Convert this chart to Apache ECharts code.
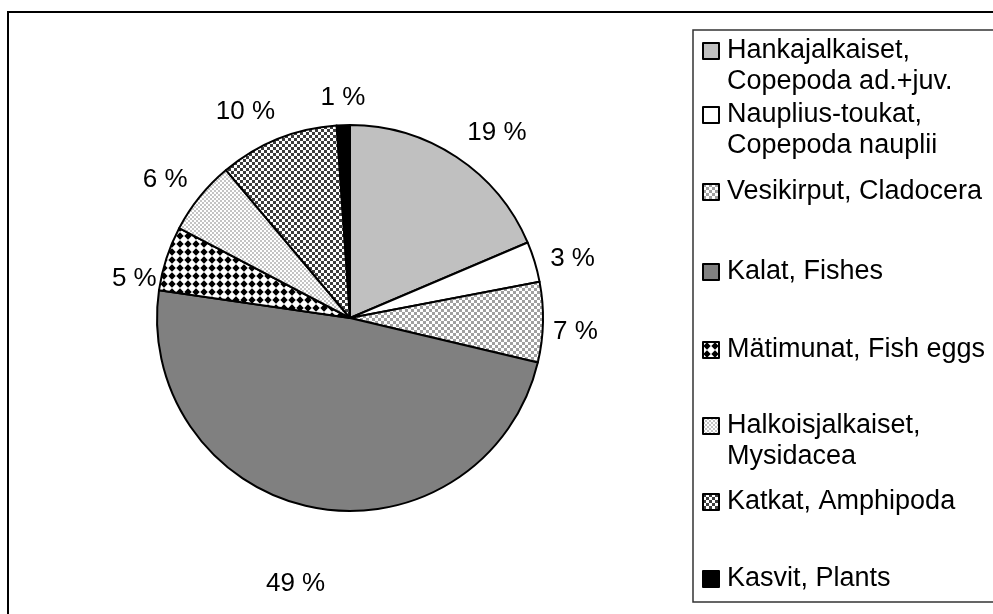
<!DOCTYPE html>
<html>
<head>
<meta charset="utf-8">
<script src="https://cdn.jsdelivr.net/npm/echarts@6/dist/echarts.min.js"></script>
<style>
  html, body { margin: 0; padding: 0; background: #fff; }
  #main { width: 993px; height: 614px; }
</style>
</head>
<body>
<div id="main"></div>
<script>
// ravinnon osuudet (%)
const names = [
  'Hankajalkaiset, Copepoda ad.+juv.',
  'Nauplius-toukat, Copepoda nauplii',
  'Vesikirput, Cladocera',
  'Kalat, Fishes',
  'Mätimunat, Fish eggs',
  'Halkoisjalkaiset, Mysidacea',
  'Katkat, Amphipoda',
  'Kasvit, Plants'
]
const legendLines = [
  ['Hankajalkaiset,', 'Copepoda ad.+juv.'],
  ['Nauplius-toukat,', 'Copepoda nauplii'],
  ['Vesikirput, Cladocera'],
  ['Kalat, Fishes'],
  ['Mätimunat, Fish eggs'],
  ['Halkoisjalkaiset,', 'Mysidacea'],
  ['Katkat, Amphipoda'],
  ['Kasvit, Plants']
]
const values = [18.6, 3.4, 6.7, 48.6, 5.4, 6.2, 10.0, 1.1]

// kuviot
function pattern(size, draw) {
  const c = document.createElement('canvas')
  c.width = size
  c.height = size
  const ctx = c.getContext('2d')
  draw(ctx)
  return { image: c, repeat: 'repeat' }
}
function checker(cell, dark, light) {
  return pattern(cell * 2, ctx => {
    ctx.fillStyle = light
    ctx.fillRect(0, 0, cell * 2, cell * 2)
    ctx.fillStyle = dark
    ctx.fillRect(0, 0, cell, cell)
    ctx.fillRect(cell, cell, cell, cell)
  })
}
const diamonds = pattern(8, ctx => {
  ctx.fillStyle = '#fff'
  ctx.fillRect(0, 0, 8, 8)
  ctx.fillStyle = '#000'
  ctx.beginPath()
  ctx.moveTo(4, 0.3)
  ctx.lineTo(7.7, 4)
  ctx.lineTo(4, 7.7)
  ctx.lineTo(0.3, 4)
  ctx.closePath()
  ctx.fill()
})
const fills = [
  '#c0c0c0',
  '#ffffff',
  checker(3, '#a0a0a0', '#ffffff'),
  '#808080',
  diamonds,
  checker(2, '#c4c4c4', '#ffffff'),
  checker(3, '#3c3c3c', '#ffffff'),
  '#000000'
]

// label placement (excel-like)
const labelLen = [25, 11, 5, 78, 5, 17, 26, 27]
const labelLen2 = [-8, 0, 0, -31, 0, -6, -12, -28]
const labelDy = [-3, 0, 9, 0, 22, -6, -3, 0]
const legendY = [51, 115, 192, 272, 350, 426, 502, 579]

const font = 'Liberation Sans, Arial, sans-serif'
const lineH = 31

const legends = names.map((n, i) => {
  const two = legendLines[i].length > 1
  return {
    data: [n],
    orient: 'vertical',
    left: 702,
    top: legendY[i] - (two ? 46.5 : 15.5),
    padding: 0,
    itemWidth: 16,
    itemHeight: 16,
    icon: 'rect',
    selectedMode: false,
    itemStyle: { borderColor: '#000', borderWidth: 2 },
    // blank first line keeps the marker beside the first text line
    formatter: () => (two ? '\n' : '') + legendLines[i].join('\n'),
    textStyle: {
      fontFamily: font,
      fontSize: 27,
      color: '#000',
      lineHeight: lineH,
      padding: [0, 0, 0, 3]
    }
  }
})

const chart = echarts.init(document.getElementById('main'))
chart.setOption({
  backgroundColor: '#fff',
  animation: false,
  graphic: [
    {
      type: 'rect',
      shape: { x: 8, y: 12, width: 1000, height: 700 },
      style: { fill: 'none', stroke: '#000', lineWidth: 2 }
    },
    {
      type: 'rect',
      shape: { x: 693, y: 30, width: 400, height: 572 },
      style: { fill: 'none', stroke: '#333', lineWidth: 1.5 }
    }
  ],
  legend: legends,
  series: [
    {
      type: 'pie',
      center: [350, 318],
      radius: 193,
      startAngle: 90,
      clockwise: true,
      avoidLabelOverlap: false,
      itemStyle: { borderColor: '#000', borderWidth: 2 },
      label: {
        show: true,
        position: 'outside',
        formatter: p => Math.round(p.percent) + ' %',
        fontFamily: font,
        fontSize: 26,
        color: '#000'
      },
      labelLine: { show: false },
      labelLayout: p => ({ dy: labelDy[p.dataIndex] }),
      emphasis: { disabled: true },
      data: names.map((n, i) => ({
        name: n,
        value: values[i],
        itemStyle: { color: fills[i] },
        labelLine: { show: false, length: labelLen[i], length2: labelLen2[i] }
      }))
    }
  ]
})
</script>
</body>
</html>
